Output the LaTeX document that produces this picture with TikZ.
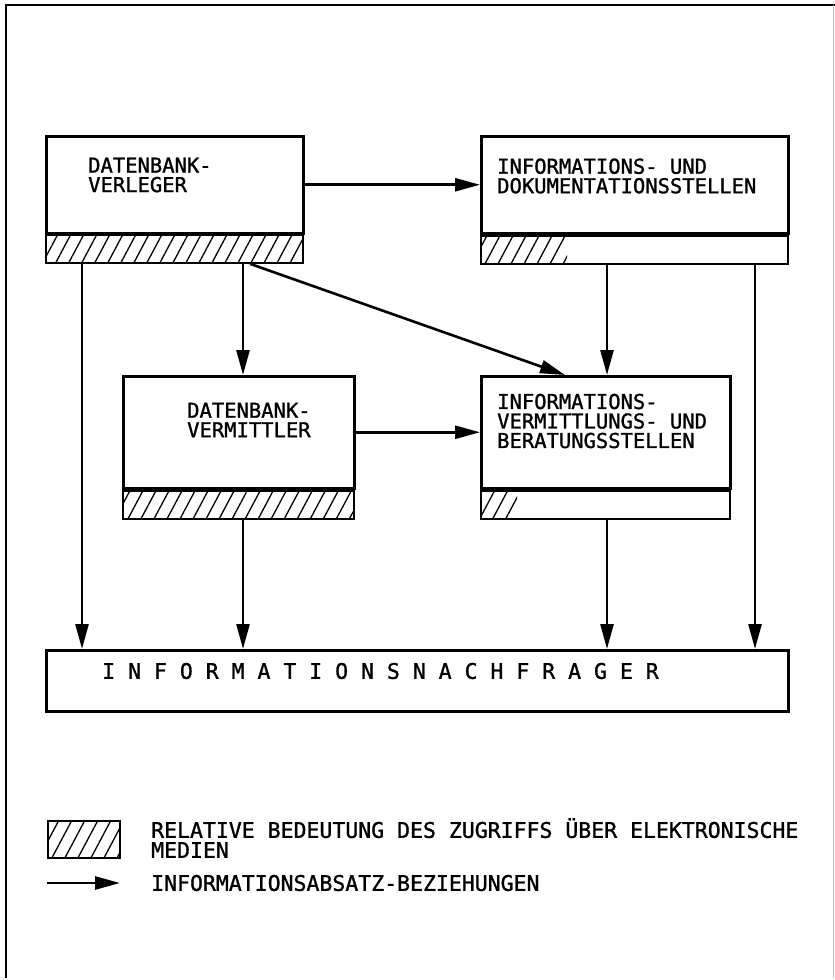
\documentclass[tikz,border=0pt]{standalone}
\usepackage{fontspec}
\newfontfamily\plotfont[FakeBold=1.2]{DejaVu Sans Mono}
\usetikzlibrary{arrows.meta, positioning, patterns.meta}

\begin{document}
\begin{tikzpicture}[x=1pt, y=-1pt]
    \tikzstyle{org} = [draw, line width=2.5pt, rectangle, inner sep=0pt, anchor=north west]
    \tikzstyle{media} = [draw, line width=2pt, rectangle, inner sep=0pt, minimum height=28pt]
    \tikzstyle{hatch} = [pattern={Lines[angle=62, distance=11.5pt, line width=1.3pt]}]
    \tikzstyle{lbl} = [font=\plotfont\fontsize{20.5}{19.5}\selectfont, align=left, anchor=west, inner sep=0pt]
    \tikzstyle{legend} = [font=\plotfont\fontsize{21.5}{20}\selectfont, align=left, anchor=west, inner sep=0pt]
    \tikzstyle{flow} = [draw, line width=2.6pt, -{Triangle[length=25pt, width=13pt]}]

    \useasboundingbox (0,0) rectangle (835,980);

    % Outer frame
    \draw[line width=2.6pt] (6,978) -- (6,5) -- (835,5);
    \draw[line width=0.8pt, black!25] (833,5) -- (833,978);

    % Organisations
    \node[org, minimum width=257pt, minimum height=97pt] (verleger) at (45,135) {};
    \node[org, minimum width=307pt, minimum height=97pt] (iudStellen) at (480,135) {};
    \node[org, minimum width=231pt, minimum height=112pt] (dbVermittler) at (122,375) {};
    \node[org, minimum width=249pt, minimum height=112pt] (ivbStellen) at (480,375) {};
    \node[org, minimum width=742pt, minimum height=61pt] (nachfrager) at (45,649) {};

    % Share of electronic access
    \node[media, hatch, minimum width=257pt, below=0pt of verleger.south west, anchor=north west] (verlegerMedia) {};
    \node[media, minimum width=307pt, below=0pt of iudStellen.south west, anchor=north west] (iudMedia) {};
    \node[media, hatch, minimum width=231pt, below=0pt of dbVermittler.south west, anchor=north west] (vermittlerMedia) {};
    \node[media, minimum width=249pt, below=0pt of ivbStellen.south west, anchor=north west] (ivbMedia) {};
    \fill[hatch] (iudMedia.north west) rectangle ([xshift=87pt]iudMedia.south west);
    \fill[hatch] (ivbMedia.north west) rectangle ([xshift=37pt]ivbMedia.south west);

    % Labels
    \node[lbl] (verlegerText) at (88,175) {DATENBANK-\\VERLEGER};
    \node[lbl] (iudText) at (497,176) {INFORMATIONS- UND\\DOKUMENTATIONSSTELLEN};
    \node[lbl] (vermittlerText) at (187,420) {DATENBANK-\\VERMITTLER};
    \node[lbl] (ivbText) at (497,421) {INFORMATIONS-\\VERMITTLUNGS- UND\\BERATUNGSSTELLEN};
    \node[legend] (nachfragerText) at (102,671) {I N F O R M A T I O N S N A C H F R A G E R};

    % Taps
    \coordinate (tapA) at ([xshift=37pt]verlegerMedia.south west);
    \coordinate (tapB) at ([xshift=198pt]verlegerMedia.south west);
    \coordinate (tapC) at ([xshift=205pt]verlegerMedia.south west);
    \coordinate (tapD) at ([xshift=127pt]iudMedia.south west);
    \coordinate (tapE) at ([xshift=275pt]iudMedia.south west);
    \coordinate (tapF) at ([xshift=121pt]vermittlerMedia.south west);
    \coordinate (tapG) at ([xshift=127pt]ivbMedia.south west);
    \coordinate (diagEnd) at ([xshift=85pt]ivbStellen.north west);

    % Connections
    \draw[flow] (verleger) -- (iudStellen);
    \draw[flow] (dbVermittler) -- (ivbStellen);
    \draw[flow] (tapA) -- (tapA |- nachfrager.north);
    \draw[flow] (tapB) -- (tapB |- dbVermittler.north);
    \draw[flow] (tapC) -- (diagEnd);
    \draw[flow] (tapD) -- (tapD |- ivbStellen.north);
    \draw[flow] (tapE) -- (tapE |- nachfrager.north);
    \draw[flow] (tapF) -- (tapF |- nachfrager.north);
    \draw[flow] (tapG) -- (tapG |- nachfrager.north);

    % Legend
    \node[draw, line width=1.5pt, hatch, minimum width=72pt, minimum height=37pt, inner sep=0pt, anchor=north west] (legHatch) at (47,820) {};
    \node[legend] (legHatchText) at (151,838) {RELATIVE BEDEUTUNG DES ZUGRIFFS ÜBER ELEKTRONISCHE\\MEDIEN};
    \coordinate (legFrom) at (47,883);
    \coordinate (legTo) at (120,883);
    \draw[flow] (legFrom) -- (legTo);
    \node[legend] (legFlowText) at (151,883) {INFORMATIONSABSATZ-BEZIEHUNGEN};
\end{tikzpicture}
\end{document}
